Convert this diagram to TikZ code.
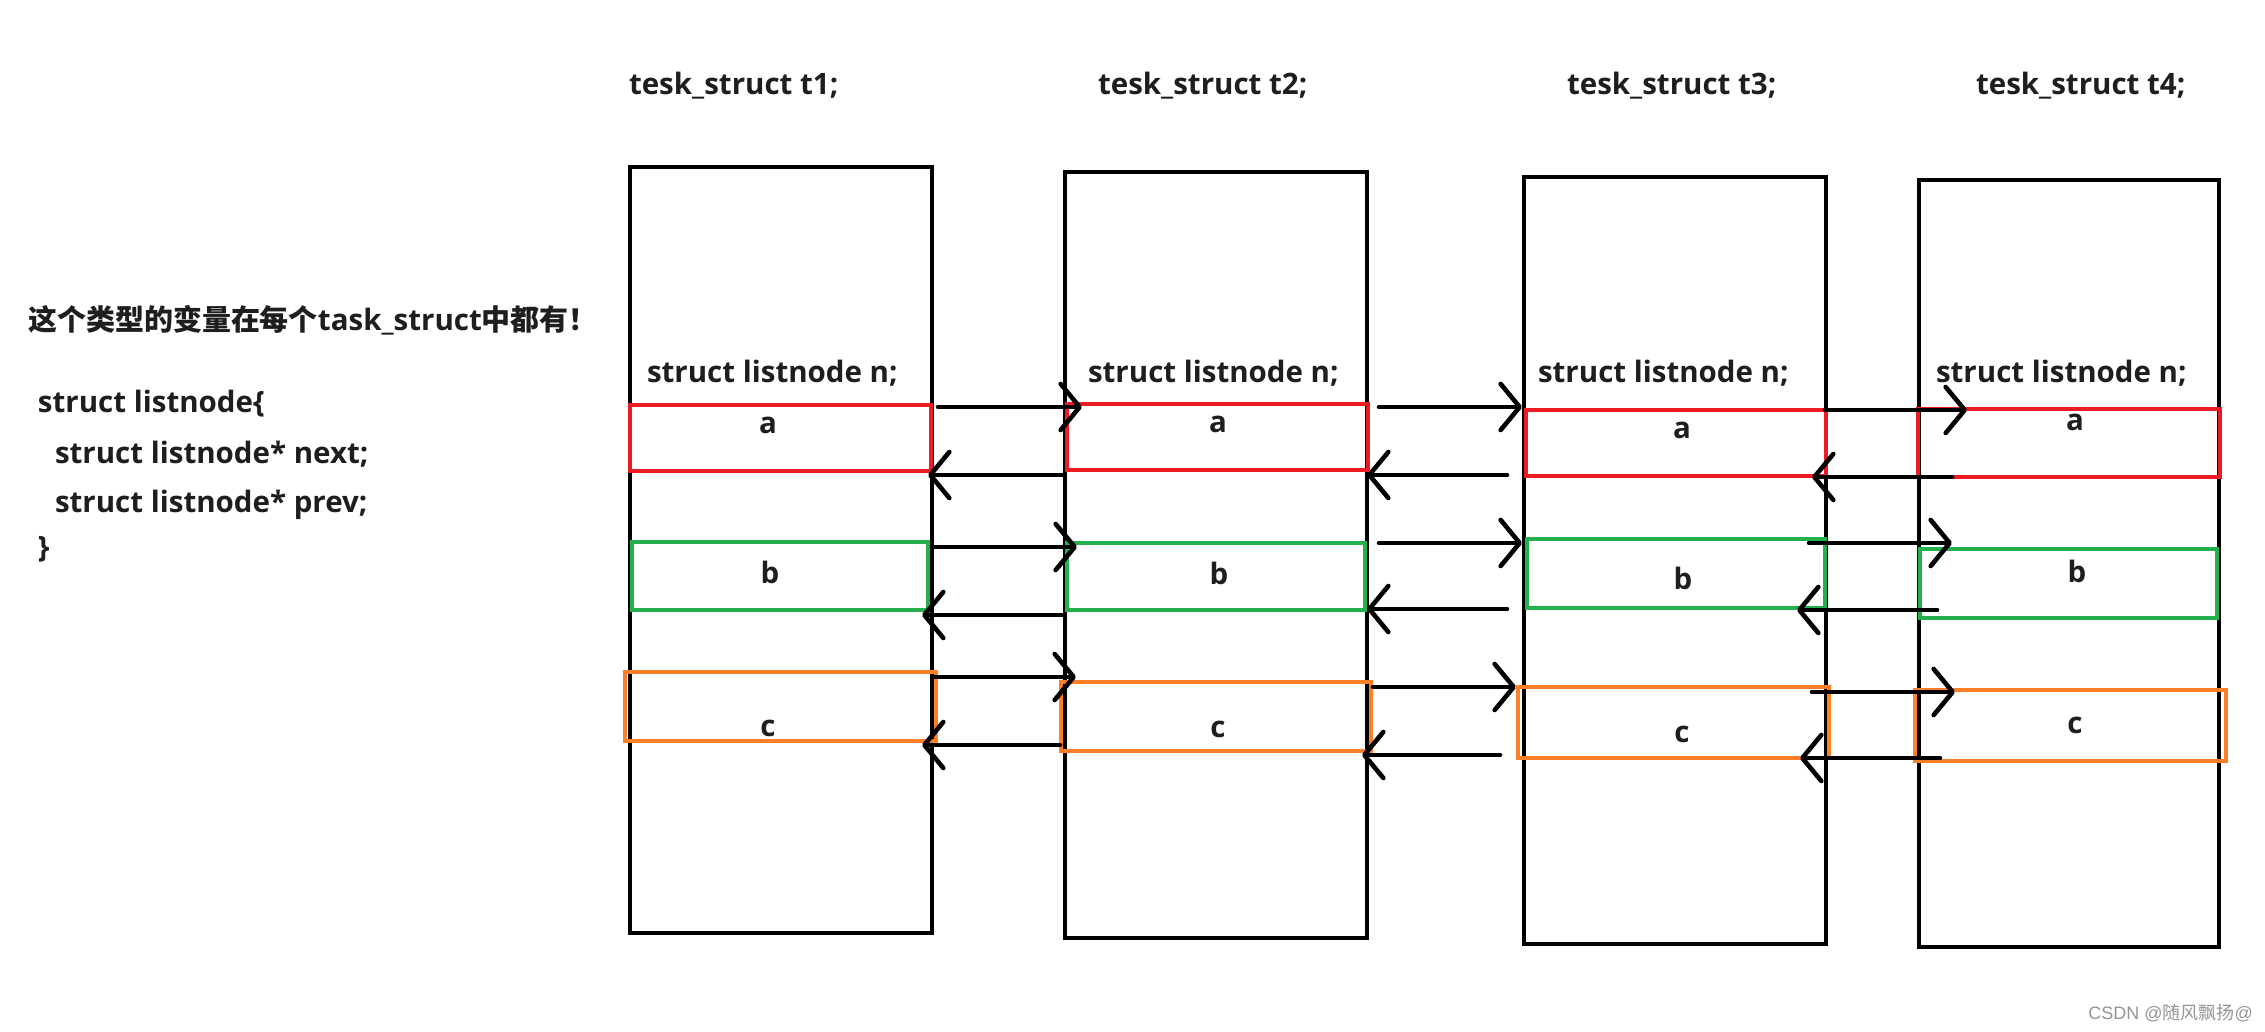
\documentclass[tikz,border=0pt]{standalone}
\usepackage{fontspec}
\setmainfont{Open Sans}
\newfontfamily\cjk{Noto Sans CJK SC}
\newfontfamily\wmfont{Liberation Sans}
\usetikzlibrary{arrows.meta,fit}
\definecolor{pred}{RGB}{237,28,36}
\definecolor{pgreen}{RGB}{34,177,76}
\definecolor{porange}{RGB}{255,127,39}
\definecolor{textcol}{RGB}{30,30,30}
\definecolor{wmcol}{RGB}{150,150,150}
\begin{document}
\begin{tikzpicture}[x=0.5pt,y=-0.5pt,
  bigbox/.style={draw=black, line width=2.45pt, inner sep=0pt, outer sep=0pt},
  subbox/.style={draw=#1, line width=2.3pt, inner sep=0pt, outer sep=0pt},
  txt/.style={inner sep=0pt, outer sep=0pt, anchor=base west, text=textcol,
    font=\fontsize{14.75pt}{18pt}\selectfont\bfseries},
  lbl/.style={inner sep=0pt, outer sep=0pt, anchor=base, text=textcol,
    font=\fontsize{14.75pt}{18pt}\selectfont\bfseries},
  arr/.style={line width=2.3pt, line cap=round, -{Straight Barb[length=9.5pt,width=23pt,round]}}
]
\useasboundingbox (0,0) rectangle (2265,1032);
\fill[white] (0,0) rectangle (2265,1032);

% left description
\node[txt] (note) at (28,330) {{\cjk\fontsize{14.5pt}{18pt}\selectfont 这个类型的变量在每个}task\_struct{\cjk\fontsize{14.5pt}{18pt}\selectfont 中都有！}};
\node[txt] (l1) at (38,412) {struct listnode\{};
\node[txt] (l2) at (55,463) {struct listnode* next;};
\node[txt] (l3) at (55,512) {struct listnode* prev;};
\node[txt] (l4) at (38,557) {\}};

% titles
\node[txt] (t1t) at (629,95) {tesk\_struct t1;};
\node[txt] (t2t) at (1098,95) {tesk\_struct t2;};
\node[txt] (t3t) at (1567,95) {tesk\_struct t3;};
\node[txt] (t4t) at (1976,95) {tesk\_struct t4;};

% big boxes
\node[bigbox, fit={(630,167) (932,933)}] (t1) {};
\node[bigbox, fit={(1065,172) (1367,938)}] (t2) {};
\node[bigbox, fit={(1524,177) (1826,944)}] (t3) {};
\node[bigbox, fit={(1919,180) (2219,947)}] (t4) {};

% struct listnode n;
\node[txt] (t1n) at (647,382) {struct listnode n;};
\node[txt] (t2n) at (1088,382) {struct listnode n;};
\node[txt] (t3n) at (1538,382) {struct listnode n;};
\node[txt] (t4n) at (1936,382) {struct listnode n;};

% sub boxes
\node[subbox=pred, fit={(630,405) (931,471)}] (t1a) {};
\node[subbox=pgreen, fit={(632,542) (928,610)}] (t1b) {};
\node[subbox=porange, fit={(625,672) (936,741)}] (t1c) {};
\node[subbox=pred, fit={(1067,404) (1368,470)}] (t2a) {};
\node[subbox=pgreen, fit={(1067,543) (1365,610)}] (t2b) {};
\node[subbox=porange, fit={(1061,682) (1371,751)}] (t2c) {};
\node[subbox=pred, fit={(1526,410) (1826,476)}] (t3a) {};
\node[subbox=pgreen, fit={(1527,539) (1825,608)}] (t3b) {};
\node[subbox=porange, fit={(1518,687) (1829,758)}] (t3c) {};
\node[subbox=pred, fit={(1918,409) (2220,477)}] (t4a) {};
\node[subbox=pgreen, fit={(1920,549) (2217,618)}] (t4b) {};
\node[subbox=porange, fit={(1915,690) (2226,761)}] (t4c) {};

% labels
\node[lbl] (t1al) at (768,433) {a};
\node[lbl] (t1bl) at (770,583) {b};
\node[lbl] (t1cl) at (768,736) {c};
\node[lbl] (t2al) at (1218,432) {a};
\node[lbl] (t2bl) at (1219,584) {b};
\node[lbl] (t2cl) at (1218,737) {c};
\node[lbl] (t3al) at (1682,438) {a};
\node[lbl] (t3bl) at (1683,589) {b};
\node[lbl] (t3cl) at (1682,742) {c};
\node[lbl] (t4al) at (2075,430) {a};
\node[lbl] (t4bl) at (2077,582) {b};
\node[lbl] (t4cl) at (2075,733) {c};

% arrows t1 <-> t2
\draw[arr] ([shift={(7,2)}]t1a.north east) -- ([shift={(15,3)}]t2a.north west);
\draw[arr] ([shift={(-3,5)}]t2a.south west) -- ([shift={(-3,4)}]t1a.south east);
\draw[arr] ([shift={(4,5)}]t1b.north east) -- ([shift={(10,4)}]t2b.north west);
\draw[arr] ([shift={(-5,5)}]t2b.south west) -- ([shift={(-6,5)}]t1b.south east);
\draw[arr] ([shift={(-4,5)}]t1c.north east) -- ([shift={(15,-5)}]t2c.north west);
\draw[arr] ([shift={(-1,-6)}]t2c.south west) -- ([shift={(-14,4)}]t1c.south east);
% arrows t2 <-> t3
\draw[arr] ([shift={(11,3)}]t2a.north east) -- ([shift={(-4,-3)}]t3a.north west);
\draw[arr] ([shift={(-19,-1)}]t3a.south west) -- ([shift={(-1,5)}]t2a.south east);
\draw[arr] ([shift={(14,0)}]t2b.north east) -- ([shift={(-5,4)}]t3b.north west);
\draw[arr] ([shift={(-20,1)}]t3b.south west) -- ([shift={(2,-1)}]t2b.south east);
\draw[arr] ([shift={(2,5)}]t2c.north east) -- ([shift={(-2,0)}]t3c.north west);
\draw[arr] ([shift={(-18,-3)}]t3c.south west) -- ([shift={(-9,4)}]t2c.south east);
% arrows t3 <-> t4
\draw[arr] ([shift={(-1,0)}]t3a.north east) -- ([shift={(49,1)}]t4a.north west);
\draw[arr] ([shift={(34,0)}]t4a.south west) -- ([shift={(-14,1)}]t3a.south east);
\draw[arr] ([shift={(-16,4)}]t3b.north east) -- ([shift={(32,-6)}]t4b.north west);
\draw[arr] ([shift={(17,-8)}]t4b.south west) -- ([shift={(-28,2)}]t3b.south east);
\draw[arr] ([shift={(-17,5)}]t3c.north east) -- ([shift={(40,2)}]t4c.north west);
\draw[arr] ([shift={(25,-3)}]t4c.south west) -- ([shift={(-29,0)}]t3c.south east);

% watermark
\node[inner sep=0pt, anchor=base west, text=wmcol, font=\fontsize{9pt}{10pt}\selectfont] (wm)
  at (2088,1019) {\wmfont CSDN @{\cjk 随风飘扬}@};
\end{tikzpicture}
\end{document}
